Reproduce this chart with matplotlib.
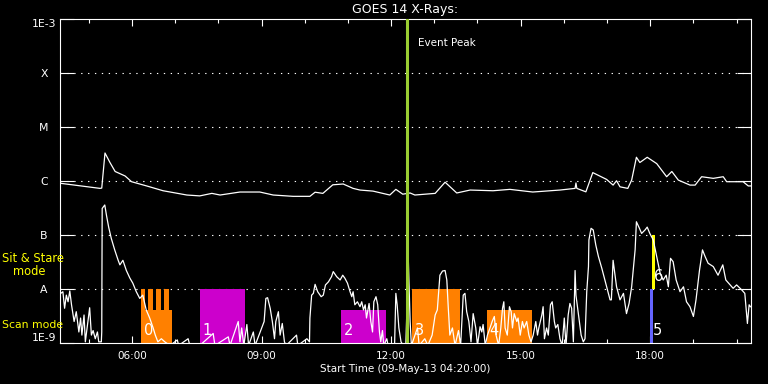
import matplotlib
matplotlib.use('Agg')
import matplotlib.pyplot as plt
from matplotlib.ticker import FixedLocator

# GOES 14 X-ray flux, 09-May-13, time in hours UT
long_t = [4.33, 5.26, 5.30, 5.375, 5.49, 5.61, 5.84, 5.99, 6.34, 6.72, 7.27, 7.57, 7.85, 8.04,
          8.50, 8.96, 9.27, 9.73, 10.12, 10.24, 10.42, 10.65, 10.89, 11.12, 11.28, 11.58, 11.97,
          12.11, 12.27, 12.44, 12.55, 13.02, 13.25, 13.52, 13.83, 14.36, 14.75, 15.28, 15.91,
          16.26, 16.28, 16.30, 16.51, 16.67, 16.99, 17.14, 17.22, 17.30, 17.48, 17.57, 17.68,
          17.76, 17.93, 18.15, 18.38, 18.50, 18.65, 18.92, 19.04, 19.19, 19.46, 19.69, 19.77,
          20.15, 20.27, 20.33]
long_flux = [9.1e-7, 7.3e-7, 7.4e-7, 3.3e-6, 2.2e-6, 1.5e-6, 1.24e-6, 9.7e-7, 8.1e-7, 6.6e-7,
             5.5e-7, 5.3e-7, 5.9e-7, 5.5e-7, 6.25e-7, 6.25e-7, 5.5e-7, 5.2e-7, 5.2e-7, 6.2e-7,
             5.9e-7, 8.5e-7, 8.8e-7, 7.3e-7, 6.8e-7, 6.5e-7, 5.5e-7, 7.0e-7, 5.7e-7, 6.0e-7,
             5.5e-7, 5.9e-7, 9.5e-7, 6.0e-7, 6.8e-7, 6.6e-7, 7.0e-7, 6.25e-7, 6.8e-7, 7.3e-7,
             9.2e-7, 7.3e-7, 6.3e-7, 1.43e-6, 1.07e-6, 8.4e-7, 1.01e-6, 7.8e-7, 7.3e-7, 1.04e-6,
             2.75e-6, 2.2e-6, 2.75e-6, 2.1e-6, 1.2e-6, 1.5e-6, 1.04e-6, 8.4e-7, 8.4e-7, 1.2e-6,
             1.12e-6, 1.2e-6, 9.7e-7, 9.7e-7, 8.1e-7, 8.1e-7]

short_t = [4.35, 4.40, 4.44, 4.48, 4.52, 4.56, 4.60, 4.66, 4.71, 4.77, 4.81, 4.84, 4.89, 4.92,
           4.97, 5.02, 5.06, 5.10, 5.15, 5.20, 5.23, 5.29, 5.30, 5.31, 5.37, 5.41, 5.46, 5.52,
           5.60, 5.68, 5.72, 5.79, 5.87, 5.95, 6.02, 6.10, 6.18, 6.25, 6.33, 6.41, 6.49, 6.54,
           6.60, 6.68, 6.76, 6.88, 7.05, 7.08, 7.30, 7.34, 7.57, 7.88, 7.92, 8.23, 8.27, 8.46,
           8.50, 8.54, 8.59, 8.66, 8.70, 8.81, 8.85, 9.06, 9.10, 9.14, 9.20, 9.25, 9.30, 9.33,
           9.39, 9.43, 9.48, 9.53, 9.57, 9.81, 9.84, 10.05, 10.11, 10.12, 10.16, 10.20, 10.24,
           10.30, 10.38, 10.43, 10.48, 10.55, 10.62, 10.66, 10.74, 10.82, 10.88, 10.93, 10.99,
           11.05, 11.09, 11.12, 11.16, 11.22, 11.28, 11.32, 11.36, 11.40, 11.43, 11.49, 11.53,
           11.57, 11.60, 11.65, 11.69, 11.73, 11.76, 11.80, 11.83, 11.90, 11.93, 12.08, 12.11,
           12.14, 12.18, 12.23, 12.28, 12.34, 12.40, 12.44, 12.47, 12.61, 12.65, 12.78, 12.85,
           12.95, 13.02, 13.07, 13.13, 13.19, 13.25, 13.29, 13.32, 13.36, 13.42, 13.48, 13.56,
           13.61, 13.67, 13.71, 13.75, 13.80, 13.85, 13.90, 13.96, 14.00, 14.06, 14.10, 14.13,
           14.18, 14.23, 14.29, 14.34, 14.39, 14.43, 14.49, 14.54, 14.58, 14.61, 14.64, 14.69,
           14.74, 14.78, 14.81, 14.85, 14.91, 14.94, 14.99, 15.04, 15.08, 15.14, 15.19, 15.24,
           15.29, 15.35, 15.39, 15.42, 15.49, 15.52, 15.55, 15.60, 15.64, 15.69, 15.73, 15.78,
           15.81, 15.86, 15.91, 15.96, 16.01, 16.05, 16.10, 16.14, 16.18, 16.22, 16.26, 16.28,
           16.32, 16.36, 16.40, 16.45, 16.49, 16.53, 16.57, 16.58, 16.63, 16.68, 16.74, 16.80,
           16.88, 16.94, 17.03, 17.07, 17.10, 17.14, 17.22, 17.30, 17.38, 17.45, 17.51, 17.57,
           17.65, 17.68, 17.75, 17.80, 17.88, 17.93, 17.99, 18.07, 18.15, 18.23, 18.30, 18.37,
           18.42, 18.47, 18.53, 18.60, 18.69, 18.77, 18.84, 18.92, 19.00, 19.06, 19.14, 19.21,
           19.27, 19.34, 19.46, 19.57, 19.68, 19.75, 19.85, 19.92, 20.00, 20.12, 20.19, 20.25,
           20.29, 20.32]
short_flux = [8.3e-9, 8.9e-9, 4.4e-9, 7.7e-9, 5.8e-9, 9.2e-9, 5.1e-9, 2.5e-9, 3.8e-9, 1.6e-9,
              2.9e-9, 1.4e-9, 3.3e-9, 1.05e-9, 2.2e-9, 4.5e-9, 1.4e-9, 1.7e-9, 1.2e-9, 1.6e-9,
              1.05e-9, 1.05e-9, 1.6e-9, 3.1e-7, 3.6e-7, 2.3e-7, 1.4e-7, 8.7e-8, 5.3e-8, 3.4e-8,
              2.8e-8, 3.4e-8, 2.2e-8, 1.6e-8, 1.28e-8, 8.9e-9, 6.7e-9, 7.7e-9, 4.1e-9, 2.9e-9,
              1.9e-9, 1.4e-9, 1.05e-9, 1.2e-9, 1.05e-9, 9e-10, 1.14e-9, 9e-10, 1.2e-9, 9e-10,
              9e-10, 1.5e-9, 9e-10, 1.3e-9, 9e-10, 2.5e-9, 1.05e-9, 1.9e-9, 9e-10, 2.2e-9,
              9e-10, 1.6e-9, 9e-10, 2.5e-9, 6.7e-9, 6.9e-9, 4.4e-9, 2.5e-9, 1.2e-9, 2.5e-9,
              3.8e-9, 1.4e-9, 2.3e-9, 1.05e-9, 9e-10, 1.4e-9, 9e-10, 1.2e-9, 1.05e-9, 2.9e-9,
              7.7e-9, 8.3e-9, 1.22e-8, 8.9e-9, 7.2e-9, 7.7e-9, 1.19e-8, 1.36e-8, 1.69e-8, 2.1e-8,
              1.69e-8, 1.47e-8, 1.8e-8, 1.58e-8, 1.28e-8, 8.9e-9, 7.2e-9, 8.9e-9, 5.1e-9, 5.8e-9,
              4.7e-9, 5.8e-9, 4.1e-9, 5.1e-9, 2.9e-9, 5.4e-9, 2.5e-9, 1.6e-9, 5.8e-9, 7.2e-9,
              5.1e-9, 1.6e-9, 1.05e-9, 1.7e-9, 9e-10, 1.2e-9, 9e-10, 9e-10, 8.3e-9, 5.1e-9,
              1.9e-9, 1.05e-9, 9e-10, 9e-10, 3.2e-8, 2.5e-9, 9e-10, 1.9e-9, 9e-10, 1.2e-9,
              9e-10, 1.4e-9, 3.3e-9, 4.1e-9, 1.8e-8, 2.15e-8, 2.2e-8, 1.47e-8, 5.1e-9, 1.4e-9,
              1.9e-9, 9e-10, 1.7e-9, 9e-10, 7.7e-9, 8.3e-9, 3.8e-9, 2.5e-9, 1.05e-9, 3.5e-9,
              1.9e-9, 9e-10, 2.0e-9, 1.6e-9, 2.2e-9, 9e-10, 1.4e-9, 1.9e-9, 2.5e-9, 3.1e-9,
              1.4e-9, 9e-10, 1.9e-9, 4.4e-9, 5.8e-9, 1.9e-9, 1.4e-9, 4.7e-9, 3.8e-9, 1.9e-9,
              3.5e-9, 2.5e-9, 2.9e-9, 1.4e-9, 2.5e-9, 1.9e-9, 2.5e-9, 1.4e-9, 1.05e-9, 1.4e-9,
              2.5e-9, 1.4e-9, 1.9e-9, 3.3e-9, 4.7e-9, 1.2e-9, 1.9e-9, 1.4e-9, 5.1e-9, 5.8e-9,
              2.5e-9, 1.9e-9, 2.2e-9, 1.2e-9, 9e-10, 2.9e-9, 9e-10, 3.3e-9, 5.4e-9, 4.4e-9,
              1.05e-9, 2.2e-8, 7.7e-9, 4.4e-9, 2.5e-9, 1.4e-9, 1.05e-9, 1.2e-9, 8.9e-9, 2.6e-8,
              8.1e-8, 1.33e-7, 1.24e-7, 6.5e-8, 4.0e-8, 2.4e-8, 1.58e-8, 8.3e-9, 6.3e-9, 6.3e-9,
              3.4e-8, 1.1e-8, 6.3e-9, 8.3e-9, 3.5e-9, 5.4e-9, 1.1e-8, 5.3e-8, 1.76e-7, 1.33e-7,
              1.07e-7, 1.24e-7, 1.4e-7, 1.07e-7, 8.1e-8, 4.0e-8, 1.95e-8, 1.47e-8, 1.8e-8, 1.1e-8,
              3.7e-8, 3.2e-8, 1.47e-8, 8.9e-9, 1.1e-8, 5.8e-9, 4.7e-9, 3.1e-9, 6.3e-9, 2.2e-8,
              5.3e-8, 4.0e-8, 3.0e-8, 2.6e-8, 1.8e-8, 2.8e-8, 1.47e-8, 1.19e-8, 1.03e-8, 1.19e-8,
              9.6e-9, 8.3e-9, 2.3e-9, 5.1e-9, 4.7e-9]

class_levels = [1e-9, 1e-8, 1e-7, 1e-6, 1e-5, 1e-4, 1e-3]
class_labels = ['1E-9', 'A', 'B', 'C', 'M', 'X', '1E-3']
hour_ticks = [6, 9, 12, 15, 18]
hour_labels = ['06:00', '09:00', '12:00', '15:00', '18:00']
minor_hours = list(range(5, 21))

# IRIS observing windows
win_id = ['0', '1', '2', '3', '4', '5', '6']
win_start = [6.21, 7.575, 10.84, 12.48, 14.22, 17.994, 18.033]
win_end = [6.93, 8.62, 11.88, 13.59, 15.26, 18.056, 18.116]
win_low = [1e-9, 1e-9, 1e-9, 1e-9, 1e-9, 1e-9, 1e-8]
win_high = [4.1e-9, 1e-8, 4.1e-9, 1e-8, 4.1e-9, 1e-8, 1e-7]
win_color = ['#ff8000', '#cc00cc', '#cc00cc', '#ff8000', '#ff8000', '#6464ff', '#ffff00']
# sit & stare pointings inside window 0
stripe_start = [6.21, 6.378, 6.556, 6.741]
stripe_end = [6.301, 6.48, 6.665, 6.85]

peak_time = 12.37
t_start, t_end = 4.3333, 20.3333

fig = plt.figure(figsize=(7.68, 3.84), dpi=100, facecolor='black')
ax = fig.add_axes([60/768, 41/384, 691/768, 324/384], facecolor='black')
ax.set_yscale('log')
ax.set_xlim(t_start, t_end)
ax.set_ylim(1e-9, 1e-3)

for lev in class_levels[1:-1]:
    ax.axhline(lev, color='white', lw=0.8, ls=(0, (1.2, 5.0)), zorder=1)

ax.bar(win_start, [h - l for h, l in zip(win_high, win_low)],
       width=[e - s for s, e in zip(win_start, win_end)], bottom=win_low,
       align='edge', color=win_color, linewidth=0, zorder=2)
ax.bar(stripe_start, [1e-8 - 1e-9] * len(stripe_start),
       width=[e - s for s, e in zip(stripe_start, stripe_end)], bottom=1e-9,
       align='edge', color='#ff8000', linewidth=0, zorder=2)

ax.plot(long_t, long_flux, color='white', lw=0.9, zorder=3)
ax.plot(short_t, short_flux, color='white', lw=0.9, zorder=3)

ax.axvline(peak_time, color='#9acd32', lw=2.2, zorder=4)
ax.annotate('Event Peak', xy=(peak_time, 1e-3), xytext=(8, -17), textcoords='offset points',
            color='white', fontsize=7.5, va='center', ha='left')

for i, s, l in zip(win_id, win_start, win_low):
    ax.annotate(i, xy=(s, l), xytext=(2, 3.5), textcoords='offset points', color='white',
                fontsize=10.5, ha='left', va='bottom', zorder=5)

ytr = ax.get_yaxis_transform()
ax.text(-58/691, 3.6e-8, 'Sit & Stare', transform=ytr, color='yellow', fontsize=8.3,
        ha='left', va='center')
ax.text(-47/691, 2.15e-8, 'mode', transform=ytr, color='yellow', fontsize=8.3,
        ha='left', va='center')
ax.text(-58/691, 2.15e-9, 'Scan mode', transform=ytr, color='yellow', fontsize=7.8,
        ha='left', va='center')

ax.set_yticks(class_levels, class_labels)
ax.yaxis.set_minor_locator(FixedLocator([]))
ax.tick_params(axis='y', which='major', direction='in', length=10, width=0.8, right=True,
               colors='white', labelsize=7.8, pad=11.5)
labels = ax.get_yticklabels()
for lbl in labels:
    lbl.set_horizontalalignment('center')
labels[0].set_verticalalignment('bottom')
labels[-1].set_verticalalignment('top')

ax.set_xticks(hour_ticks, hour_labels)
ax.xaxis.set_minor_locator(FixedLocator(minor_hours))
ax.tick_params(axis='x', which='major', direction='in', length=5, width=0.8, top=True,
               colors='white', labelsize=7.5, pad=6)
ax.tick_params(axis='x', which='minor', direction='in', length=3, width=0.8, top=True,
               colors='white')

for sp in ax.spines.values():
    sp.set_color('white')
    sp.set_linewidth(0.8)

ax.set_title('GOES 14 X-Rays:', color='white', fontsize=9, pad=4)
ax.set_xlabel('Start Time (09-May-13 04:20:00)', color='white', fontsize=7.5, labelpad=2)

fig.savefig('out.png', dpi=100, facecolor='black')
